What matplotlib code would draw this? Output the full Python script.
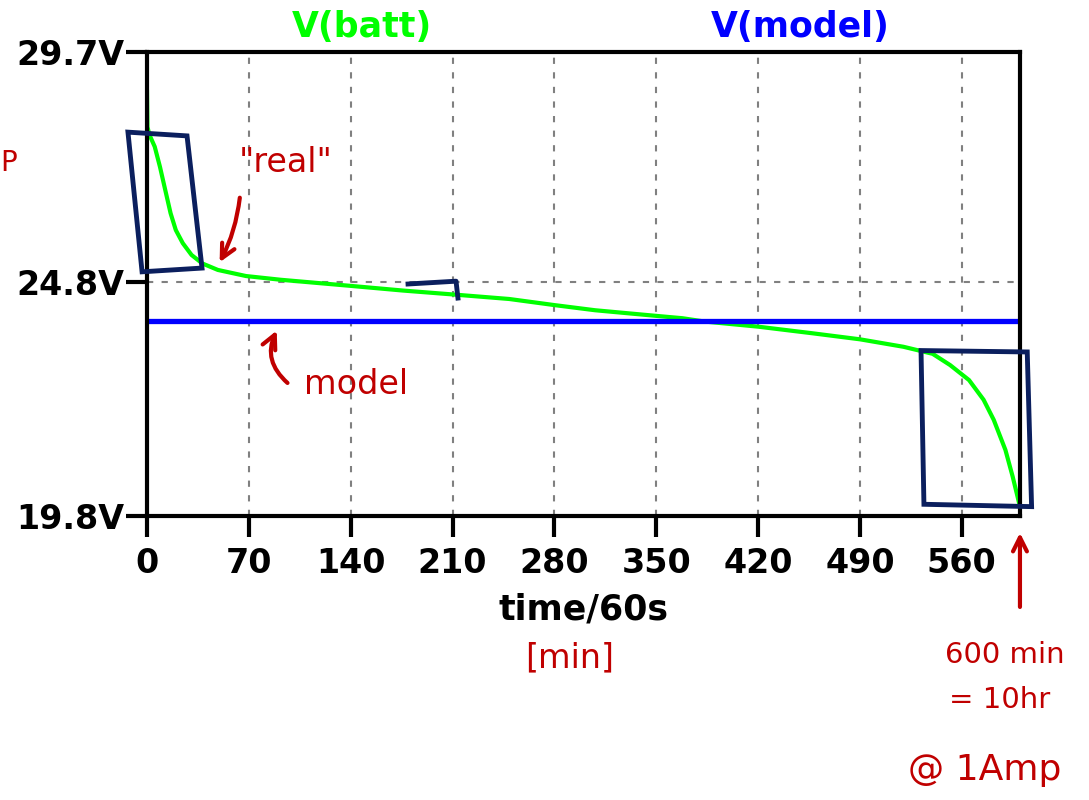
import matplotlib
matplotlib.use("Agg")
import matplotlib.pyplot as plt
from matplotlib.patches import Polygon

# --- data (time in minutes, volts) ---
t_batt = [0, 0.3, 1.7, 5.3, 8.9, 12.5, 16.2, 19.8, 24.6, 30.6, 37.9, 48.7, 68, 92,
          140, 176, 213, 249, 280, 308, 350, 368, 383, 420, 457, 490, 520, 540,
          552, 565, 575, 582, 590, 595, 600]
v_batt = [28.85, 28.1, 27.93, 27.68, 27.25, 26.76, 26.26, 25.90, 25.62, 25.37, 25.19,
          25.05, 24.92, 24.84, 24.71, 24.61, 24.52, 24.43, 24.30, 24.19, 24.07, 24.02,
          23.95, 23.84, 23.70, 23.57, 23.41, 23.26, 23.02, 22.70, 22.28, 21.85, 21.21,
          20.64, 20.0]
t_model = [0, 600]
v_model = [23.96, 23.96]

x_ticks = [0, 70, 140, 210, 280, 350, 420, 490, 560]
y_ticks = [19.8, 24.8, 29.7]
y_labels = ["19.8V", "24.8V", "29.7V"]

GREEN = "#00ff00"
BLUE = "#0000ff"
RED = "#c00000"
NAVY = "#0b1f5e"

fig = plt.figure(figsize=(10.89, 8), dpi=100)
ax = fig.add_axes([0.135, 0.355, 0.8016, 0.58])

ax.plot(t_batt, v_batt, color=GREEN, lw=3, zorder=3)
ax.plot(t_model, v_model, color=BLUE, lw=3.8, zorder=4)

ax.set_xlim(0, 600)
ax.set_ylim(19.8, 29.7)
ax.set_xticks(x_ticks)
ax.set_xticklabels([str(x) for x in x_ticks])
ax.set_yticks(y_ticks)
ax.set_yticklabels(y_labels)
ax.grid(True, color="#808080", lw=1.5, ls=(0, (3, 4)), zorder=1)

for s in ax.spines.values():
    s.set_linewidth(3)
    s.set_zorder(5)
ax.tick_params(axis="both", length=15, width=3, direction="out", labelsize=24)
ax.tick_params(axis="y", pad=1)
ax.tick_params(axis="x", pad=7)
for lab in ax.get_xticklabels() + ax.get_yticklabels():
    lab.set_fontweight("bold")
ax.set_xlabel("time/60s", fontsize=25, fontweight="bold", labelpad=9)

# trace names on top
fig.text(362 / 1089, 1 - 27 / 800, "V(batt)", color=GREEN, fontsize=25,
         fontweight="bold", ha="center", va="center")
fig.text(800 / 1089, 1 - 27 / 800, "V(model)", color=BLUE, fontsize=25,
         fontweight="bold", ha="center", va="center")

# hand-drawn notes
ax.text(95, 27.35, '"real"', color=RED, fontsize=24, ha="center", va="center")
ax.annotate("", xy=(49, 25.16), xytext=(64, 26.65), annotation_clip=False,
            arrowprops=dict(arrowstyle="->", color=RED, lw=3, mutation_scale=25,
                            connectionstyle="arc3,rad=-0.1"))
ax.text(144, 22.6, "model", color=RED, fontsize=24, ha="center", va="center")
ax.annotate("", xy=(90, 23.81), xytext=(98, 22.6), annotation_clip=False,
            arrowprops=dict(arrowstyle="->", color=RED, lw=3, mutation_scale=25,
                            connectionstyle="arc3,rad=-0.4"))
ax.annotate("", xy=(600, 19.5), xytext=(600, 17.8), annotation_clip=False,
            arrowprops=dict(arrowstyle="->", color=RED, lw=3, mutation_scale=25))

fig.text(570 / 1089, 1 - 658 / 800, "[min]", color=RED, fontsize=24,
         ha="center", va="center")
fig.text(1005 / 1089, 1 - 655 / 800, "600 min", color=RED, fontsize=21,
         ha="center", va="center")
fig.text(1000 / 1089, 1 - 700 / 800, "= 10hr", color=RED, fontsize=21,
         ha="center", va="center")
fig.text(985 / 1089, 1 - 770 / 800, "@ 1Amp", color=RED, fontsize=26,
         ha="center", va="center")
fig.text(0.0, 1 - 163 / 800, "P", color=RED, fontsize=20, ha="left", va="center")

# navy boxes
box1 = Polygon([(-13.1, 27.99), (27.5, 27.91), (37.8, 25.09), (-3.4, 25.01)],
               closed=True, fill=False, ec=NAVY, lw=3.5, clip_on=False, zorder=6)
box2 = Polygon([(532, 23.33), (605, 23.30), (608, 20.0), (534, 20.05)],
               closed=True, fill=False, ec=NAVY, lw=3.5, clip_on=False, zorder=6)
ax.add_patch(box1)
ax.add_patch(box2)
ax.plot([179.4, 212.4, 213.7], [24.75, 24.81, 24.45], color=NAVY, lw=3.5,
        clip_on=False, zorder=6)

fig.savefig("out.png", dpi=100)
